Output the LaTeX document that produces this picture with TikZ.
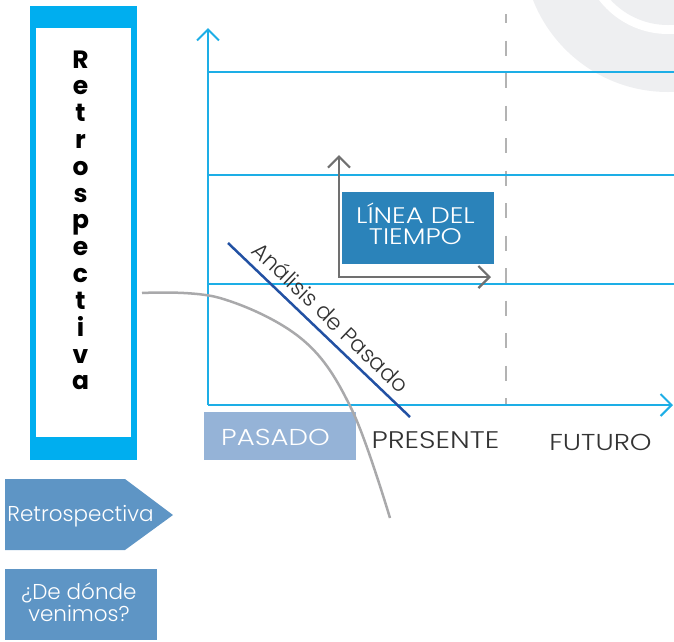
\documentclass[tikz,border=0pt]{standalone}
\usepackage{fontspec}
\usetikzlibrary{arrows.meta}
\IfFontExistsTF{Poppins Light}{%
  \newfontfamily\lightf{Poppins Light}%
  \newfontfamily\lightw{Poppins Light}[FakeStretch=1.2]}{%
  \newfontfamily\lightf{Poppins}%
  \newfontfamily\lightw{Poppins}[FakeStretch=1.2]}
\newfontfamily\popf{Poppins}
\definecolor{cyanb}{HTML}{00AEEF}
\definecolor{gridc}{HTML}{1DAEE6}
\definecolor{lineabox}{HTML}{2B83BA}
\definecolor{pasadobox}{HTML}{95B3D7}
\definecolor{midblue}{HTML}{5E95C5}
\definecolor{darkblue}{HTML}{2251A3}
\definecolor{arcgrey}{HTML}{A9A9AB}
\definecolor{dashgrey}{HTML}{B3B3B3}
\definecolor{arrowgrey}{HTML}{707070}
\definecolor{bggrey}{HTML}{EEEFF1}
\definecolor{txtdark}{HTML}{333333}
\tikzset{
  axisline/.style={gridc, line width=2pt},
  gridline/.style={gridc, line width=1.8pt},
  barb/.style={-{Straight Barb[length=11pt,width=22pt]}},
  whitetxt/.style={text=white, font=\lightf\fontsize{21.5}{22}\selectfont, inner sep=0pt, align=center},
  whitecaps/.style={text=white, font=\lightw\fontsize{23}{21}\selectfont, inner sep=0pt, align=center},
  darkcaps/.style={text=txtdark, font=\lightw\fontsize{23}{23}\selectfont, inner sep=0pt},
  letter/.style={anchor=base, inner sep=0pt, font=\popf\bfseries\fontsize{25}{25}\selectfont, text=black},
}
\begin{document}
\begin{tikzpicture}[x=1pt,y=-1pt]
\useasboundingbox (0,0) rectangle (674,641);
% background grey rings
\begin{scope}
\clip (0,0) rectangle (674,641);
\fill[bggrey] (668,-53) circle[radius=145pt];
\fill[white] (668,-53) circle[radius=87pt];
\fill[bggrey] (668,-53) circle[radius=78pt];
\end{scope}
% left vertical box
\fill[cyanb] (30,6) rectangle (137,460);
\fill[white] (36,28) rectangle (131,437);
\foreach \ch [count=\i from 0] in {R,e,t,r,o,s,p,e,c,t,i,v,a}
  \node[letter] (let\i) at (80.5, 68+26.83*\i) {\ch};
% coordinates
\coordinate (O) at (208,405);
\coordinate (Ytop) at (208,28);
\coordinate (Xend) at (673,405);
\coordinate (dTop) at (506,14);
\coordinate (dBot) at (506,405);
% dashed present line
\draw[dashgrey, line width=2.4pt, dash pattern=on 15pt off 17.5pt, dash phase=6pt] (dTop) -- (dBot);
% grid lines
\foreach \yy/\nm in {72/ga,175/gb,284/gc}{
  \coordinate (\nm s) at (208,\yy);
  \coordinate (\nm e) at (674,\yy);
  \draw[gridline] (\nm s) -- (\nm e);
}
% axes
\draw[axisline, barb] (O) -- (Ytop);
\draw[axisline, barb] (O) -- (Xend);
% inner grey axes
\coordinate (G) at (339,277);
\coordinate (Gup) at (339,155);
\coordinate (Gright) at (491,277);
\draw[arrowgrey, line width=2.2pt, {Straight Barb[length=11pt,width=22pt]}-{Straight Barb[length=11pt,width=22pt]}] (Gup) -- (G) -- (Gright);
% LINEA DEL TIEMPO
\node[fill=lineabox, minimum width=152pt, minimum height=72pt, inner sep=0pt] (linea) at (418,228) {};
\node[whitecaps, font=\lightw\fontsize{22.5}{21}\selectfont] (lineat) at (415.5,224) {LÍNEA DEL\\TIEMPO};
% PASADO box
\node[fill=pasadobox, minimum width=152pt, minimum height=48pt, inner sep=0pt] (pasado) at (280,436) {};
\node[whitecaps] (pasadot) at (275.5,437.5) {PASADO};
\node[darkcaps, font=\lightw\fontsize{24}{24}\selectfont] (presente) at (435.5,440.5) {PRESENTE};
\node[darkcaps] (futuro) at (600.5,442) {FUTURO};
% analysis line
\coordinate (aS) at (228,243);
\coordinate (aE) at (410,417);
\draw[darkblue, line width=2.5pt] (aS) -- (aE);
\node[anchor=base, rotate=-43.7, text=txtdark, font=\lightf\fontsize{22.3}{22.3}\selectfont, inner sep=0pt] (analisis) at (325.1,323.4) {Análisis de Pasado};
% grey arc
\draw[arcgrey, line width=2.5pt] plot[smooth, tension=0.6] coordinates {(142,293) (220,298) (303,340) (352,410) (390,518)};
% bottom left shapes
\fill[midblue] (5,479) -- (125,479) -- (173,515) -- (125,550) -- (5,550) -- cycle;
\node[whitetxt] (retro) at (80.5,516) {Retrospectiva};
\node[fill=midblue, minimum width=152pt, minimum height=71pt, inner sep=0pt] (dondebox) at (81,604.5) {};
\node[whitetxt] (donde) at (79,602) {¿De dónde\\venimos?};
\end{tikzpicture}
\end{document}
